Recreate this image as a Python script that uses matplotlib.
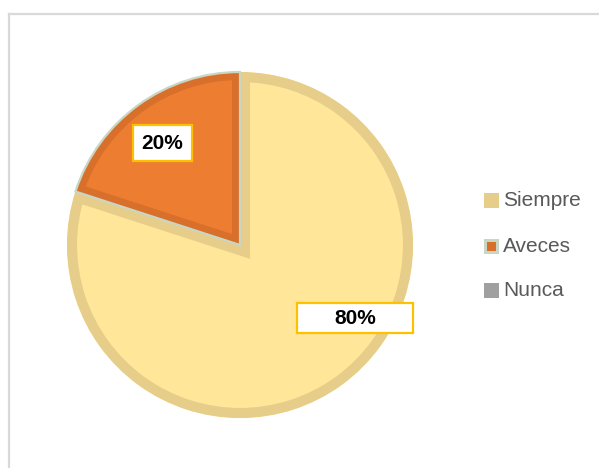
import matplotlib
matplotlib.use("Agg")
import matplotlib.pyplot as plt
from matplotlib.patches import Wedge, Rectangle
from matplotlib.lines import Line2D

# datos de la encuesta
categorias = ['Siempre', 'Aveces', 'Nunca']
valores = [80, 20, 0]
relleno = ['#FFE699', '#ED7D31', '#A5A5A5']
borde = ['#E6CD8A', '#D8702B', '#8C8C8C']
muestra = ['#E6CD8A', '#D8702B', '#A0A0A0']

# cajas de las etiquetas (x0, y0, x1, y1 en pixeles)
cajas = {'Siempre': (297, 303, 413, 333), 'Aveces': (133, 125, 192, 161)}

W, H = 599, 468
fig = plt.figure(figsize=(W / 100, H / 100), dpi=100)

# pastel
cx, cy, R = 240, 245, 173
s = 200
ax = fig.add_axes([(cx - s) / W, (H - cy - s) / H, 2 * s / W, 2 * s / H])

idx = [i for i, v in enumerate(valores) if v > 0]
wedges, _ = ax.pie([valores[i] for i in idx], colors=[relleno[i] for i in idx],
                   startangle=90, counterclock=False, radius=1,
                   wedgeprops=dict(linewidth=0))
ax.set_xlim(-s / R, s / R)
ax.set_ylim(-s / R, s / R)
ax.axis('off')

ancho = {'Siempre': 14.5, 'Aveces': 11.5}
for w, i in zip(wedges, idx):
    b = Wedge(w.center, w.r, w.theta1, w.theta2, fill=False,
              edgecolor=borde[i], linewidth=ancho[categorias[i]], joinstyle='miter')
    ax.add_patch(b)
    b.set_clip_path(w)
    if categorias[i] == 'Aveces':
        ax.add_patch(Wedge(w.center, w.r, w.theta1, w.theta2, fill=False,
                           edgecolor='#C9D6C4', linewidth=1.6, joinstyle='miter'))

# capa en pixeles para marco, etiquetas y leyenda
ov = fig.add_axes([0, 0, 1, 1])
ov.set_zorder(5)
ov.set_xlim(0, W)
ov.set_ylim(H, 0)
ov.axis('off')
ov.add_line(Line2D([9, W], [14, 14], color='#D9D9D9', lw=1.6))
ov.add_line(Line2D([9, 9], [14, H], color='#D9D9D9', lw=1.6))

# etiquetas de porcentaje
for i in idx:
    x0, y0, x1, y1 = cajas[categorias[i]]
    ov.add_patch(Rectangle((x0, y0), x1 - x0, y1 - y0, facecolor='white',
                           edgecolor='#FFC000', lw=1.6, zorder=5))
    ov.text((x0 + x1) / 2, (y0 + y1) / 2 + 0.5, f'{valores[i]}%', ha='center', va='center',
            fontsize=15, fontweight='bold', family='Liberation Sans', color='black', zorder=6)

# leyenda
ys = [200, 246, 290]
for c, col, y in zip(categorias, muestra, ys):
    if c == 'Aveces':
        ov.add_patch(Rectangle((484, y - 7.5), 15, 15, facecolor='#C9D6C4', lw=0))
        ov.add_patch(Rectangle((487, y - 4.5), 9, 9, facecolor=col, lw=0))
    else:
        ov.add_patch(Rectangle((484, y - 7.5), 15, 15, facecolor=col, lw=0))
    ov.text(503, y + 0.5, c, ha='left', va='center', fontsize=15,
            family='Liberation Sans', color='#595959')

fig.savefig('out.png', dpi=100)
